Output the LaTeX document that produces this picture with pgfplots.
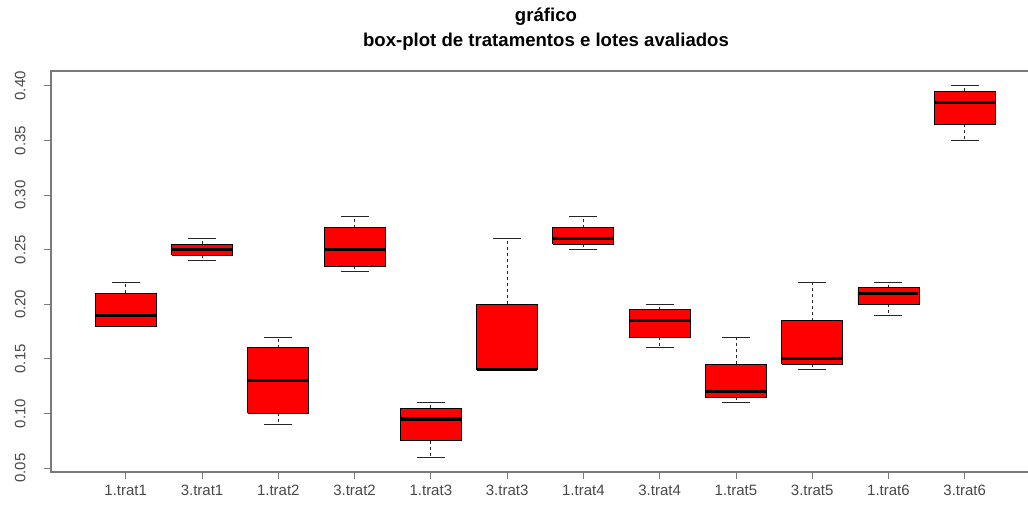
\documentclass[border=0pt]{standalone}
\usepackage{pgfplots}
\usepackage{pgfplotstable}
\pgfplotsset{compat=1.18}
\usepackage{fontspec}
\setmainfont{Liberation Sans}
\definecolor{axisgray}{HTML}{7A7A7A}
\definecolor{labgray}{HTML}{484848}
\pgfplotstableread{
x  min   q1    med   q3    max
1  0.18  0.18  0.19  0.21  0.22
2  0.24  0.245 0.25  0.255 0.26
3  0.09  0.10  0.13  0.16  0.17
4  0.23  0.235 0.25  0.27  0.28
5  0.06  0.075 0.095 0.105 0.11
6  0.14  0.14  0.14  0.20  0.26
7  0.25  0.255 0.26  0.27  0.28
8  0.16  0.17  0.185 0.195 0.20
9  0.11  0.115 0.12  0.145 0.17
10 0.14  0.145 0.15  0.185 0.22
11 0.19  0.20  0.21  0.215 0.22
12 0.35  0.365 0.385 0.395 0.40
}\boxdata
\begin{document}
\begin{tikzpicture}
\useasboundingbox (0pt,0pt) rectangle (1028pt,509pt);
\node[align=center, font=\bfseries\fontsize{18.6}{25}\selectfont, inner sep=0pt] at (546pt,479.5pt) {gráfico\\box-plot de tratamentos e lotes avaliados};
\begin{axis}[
  at={(51pt,37pt)}, anchor=south west,
  scale only axis, width=990pt, height=401pt,
  xmin=0.02, xmax=13.0, ymin=0.0464, ymax=0.4136,
  axis line style={axisgray, line width=1.2pt},
  xtick={1,2,3,4,5,6,7,8,9,10,11,12},
  xticklabels={1.trat1,3.trat1,1.trat2,3.trat2,1.trat3,3.trat3,1.trat4,3.trat4,1.trat5,3.trat5,1.trat6,3.trat6},
  ytick={0.05,0.10,0.15,0.20,0.25,0.30,0.35,0.40},
  xtick pos=bottom, ytick pos=left,
  tick align=outside, major tick length=7pt,
  every tick/.append style={axisgray, line width=0.8pt},
  tick label style={font=\fontsize{15}{17}\selectfont, text=labgray},
  xticklabel style={anchor=north, text height=11pt, text depth=3pt, yshift=-2pt},
  /pgf/number format/assume math mode=true,
  yticklabel={\pgfmathprintnumber[fixed, fixed zerofill, precision=2]{\tick}},
  yticklabel style={xshift=-15pt, rotate=90, anchor=south},
  scaled y ticks=false,
]
% upper whiskers
\addplot[draw=none, no markers,
  error bars/.cd, y dir=plus, y explicit,
  error bar style={draw=black!85, line width=0.7pt, dash pattern=on 3pt off 3pt},
  error mark=|, error mark options={draw=black!85, solid, mark size=14pt, line width=0.9pt}]
  table[x=x, y=q3, y error expr=\thisrow{max}-\thisrow{q3}] {\boxdata};
% lower whiskers
\addplot[draw=none, no markers,
  error bars/.cd, y dir=minus, y explicit,
  error bar style={draw=black!85, line width=0.7pt, dash pattern=on 3pt off 3pt},
  error mark=|, error mark options={draw=black!85, solid, mark size=14pt, line width=0.9pt}]
  table[x=x, y=q1, y error expr=\thisrow{q1}-\thisrow{min}] {\boxdata};
% boxes (q1 to q3, width 0.8)
\pgfplotsset{boxst/.style={fill=red, draw=black, line width=0.9pt, line join=miter}}
\addplot[boxst] coordinates {(0.6,0.18) (1.4,0.18) (1.4,0.21) (0.6,0.21) (0.6,0.18)};
\addplot[boxst] coordinates {(1.6,0.245) (2.4,0.245) (2.4,0.255) (1.6,0.255) (1.6,0.245)};
\addplot[boxst] coordinates {(2.6,0.10) (3.4,0.10) (3.4,0.16) (2.6,0.16) (2.6,0.10)};
\addplot[boxst] coordinates {(3.6,0.235) (4.4,0.235) (4.4,0.27) (3.6,0.27) (3.6,0.235)};
\addplot[boxst] coordinates {(4.6,0.075) (5.4,0.075) (5.4,0.105) (4.6,0.105) (4.6,0.075)};
\addplot[boxst] coordinates {(5.6,0.14) (6.4,0.14) (6.4,0.20) (5.6,0.20) (5.6,0.14)};
\addplot[boxst] coordinates {(6.6,0.255) (7.4,0.255) (7.4,0.27) (6.6,0.27) (6.6,0.255)};
\addplot[boxst] coordinates {(7.6,0.17) (8.4,0.17) (8.4,0.195) (7.6,0.195) (7.6,0.17)};
\addplot[boxst] coordinates {(8.6,0.115) (9.4,0.115) (9.4,0.145) (8.6,0.145) (8.6,0.115)};
\addplot[boxst] coordinates {(9.6,0.145) (10.4,0.145) (10.4,0.185) (9.6,0.185) (9.6,0.145)};
\addplot[boxst] coordinates {(10.6,0.20) (11.4,0.20) (11.4,0.215) (10.6,0.215) (10.6,0.20)};
\addplot[boxst] coordinates {(11.6,0.365) (12.4,0.365) (12.4,0.395) (11.6,0.395) (11.6,0.365)};
% medians
\addplot[only marks, mark=-, mark size=30pt, mark options={black, line width=3.2pt}]
  table[x=x, y=med] {\boxdata};
\end{axis}
\end{tikzpicture}
\end{document}
